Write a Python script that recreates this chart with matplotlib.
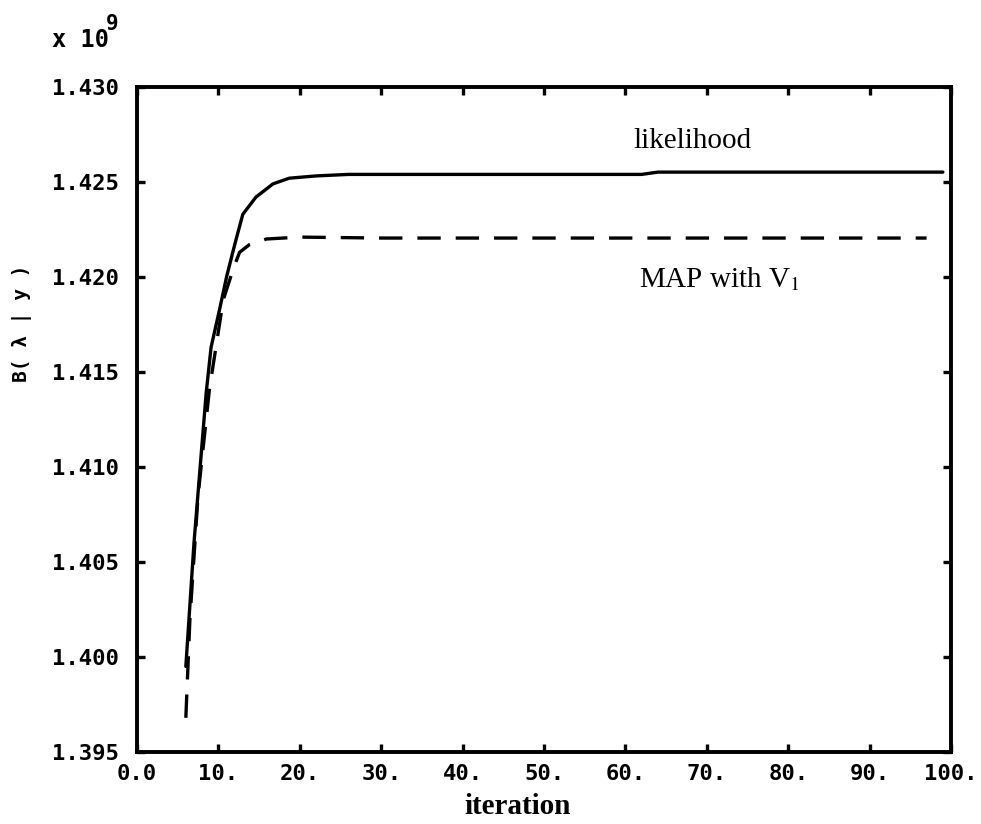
import matplotlib

matplotlib.use("Agg")
import matplotlib.pyplot as plt

# values in units of 1e9
iter_like = [6.0, 7.0, 8.5, 9.1, 10.2, 11.0, 12.0, 13.0, 14.6, 16.7, 18.7, 22.0, 26.0, 40.0, 62.0, 64.0, 99.0]
like = [1.3995, 1.4060, 1.4139, 1.4163, 1.4184, 1.4200, 1.4217, 1.4233, 1.4242, 1.4249, 1.4252, 1.42532,
        1.4254, 1.4254, 1.4254, 1.42552, 1.42552]

iter_map = [6.0, 6.5, 7.5, 8.9, 10.6, 11.8, 12.6, 13.8, 15.9, 20.0, 30.0, 97.0]
map_v1 = [1.3968, 1.4020, 1.4085, 1.4141, 1.4188, 1.4204, 1.4213, 1.4217, 1.4220, 1.4221, 1.42205, 1.42205]

x_ticks = [0, 10, 20, 30, 40, 50, 60, 70, 80, 90, 100]
x_tick_labels = ["0.0", "10.", "20.", "30.", "40.", "50.", "60.", "70.", "80.", "90.", "100."]
y_ticks = [1.395, 1.400, 1.405, 1.410, 1.415, 1.420, 1.425, 1.430]
y_tick_labels = ["1.395", "1.400", "1.405", "1.410", "1.415", "1.420", "1.425", "1.430"]

plt.rcParams["mathtext.fontset"] = "stix"

fig = plt.figure(figsize=(9.81, 8.24), dpi=100)
ax = fig.add_axes([137 / 981, 1 - 752 / 824, (951 - 137) / 981, (752 - 87) / 824])

ax.plot(iter_like, like, color="black", linewidth=2.4, solid_capstyle="round")
ax.plot(iter_map, map_v1, color="black", linewidth=2.4, linestyle=(0, (7, 4.5)))

ax.set_xlim(0, 100)
ax.set_ylim(1.395, 1.430)
ax.set_xticks(x_ticks, x_tick_labels)
ax.set_yticks(y_ticks, y_tick_labels)
for spine in ax.spines.values():
    spine.set_linewidth(2.8)
ax.tick_params(direction="in", length=6, width=2.4, top=True, right=True,
               labelsize=16)
ax.tick_params(axis="x", pad=9)
ax.tick_params(axis="y", pad=13)
for label in ax.get_xticklabels() + ax.get_yticklabels():
    label.set_fontfamily("DejaVu Sans Mono")
    label.set_fontweight("bold")

ax.text(68.2, 1.42716, "likelihood", family="Liberation Serif", fontsize=21,
        ha="center", va="center")
ax.text(71.6, 1.4199, "MAP with V$_1$", family="Liberation Serif", fontsize=21,
        ha="center", va="center")

fig.text(52 / 981, 1 - 40 / 824, "x 10", family="DejaVu Sans Mono",
         fontsize=17, fontweight="bold", va="center", ha="left")
fig.text(106 / 981, 1 - 24 / 824, "9", family="DejaVu Sans Mono",
         fontsize=15, fontweight="bold", va="center", ha="left")
fig.text(22 / 981, 1 - 323 / 824, "B( λ | y )", family="DejaVu Sans Mono",
         fontsize=14, fontweight="bold", rotation=90, ha="center", va="center")
fig.text(518 / 981, 1 - 806 / 824, "iteration", family="Liberation Serif",
         fontsize=21, fontweight="bold", ha="center", va="center")

fig.savefig("out.png", dpi=100)
